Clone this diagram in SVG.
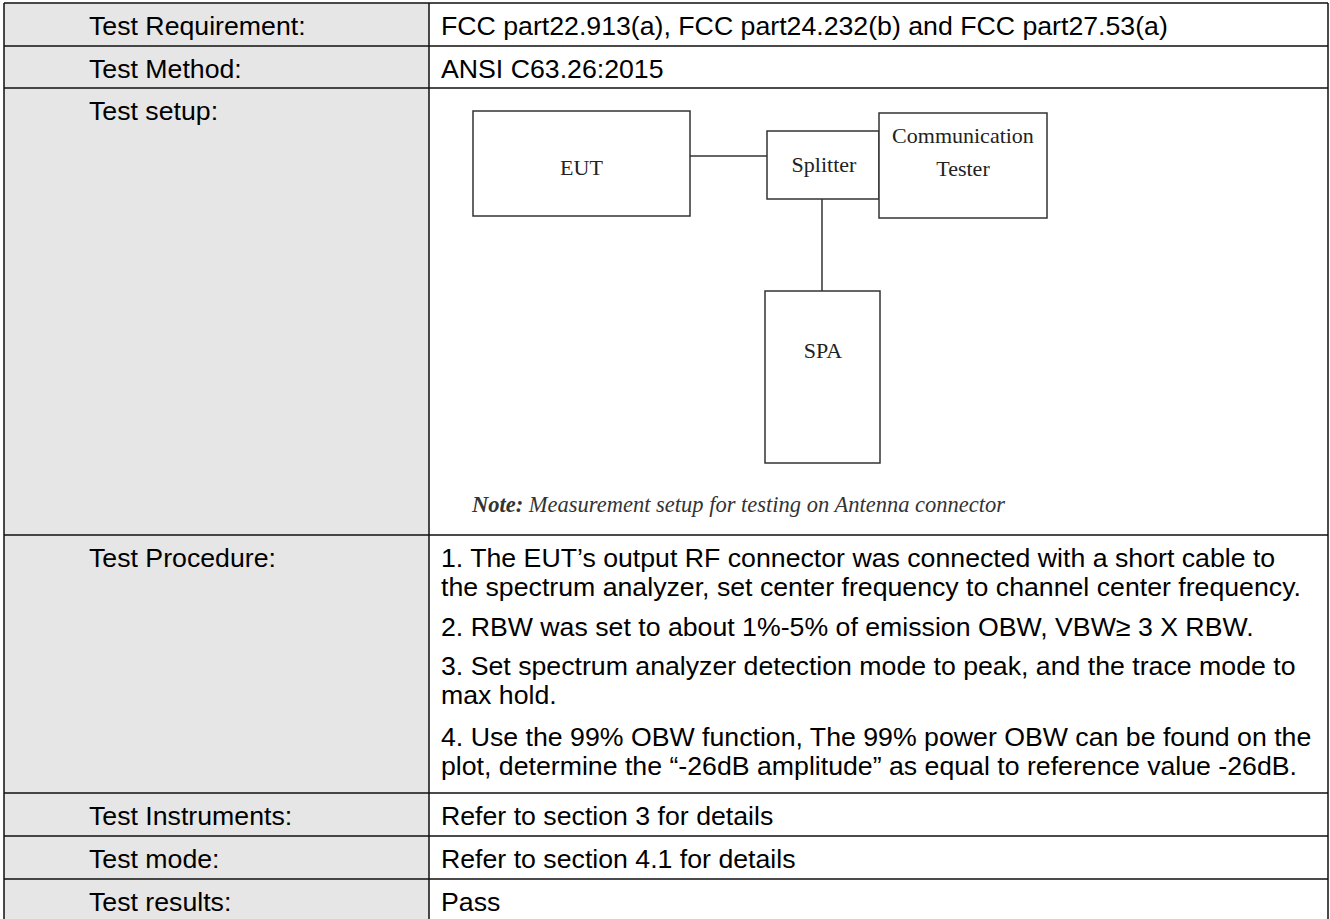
<svg xmlns="http://www.w3.org/2000/svg" width="1330" height="919" viewBox="0 0 1330 919">
<style>
.t{font-family:"Liberation Sans",Arial,sans-serif;font-size:26.7px;fill:#000}
.g{stroke:#111;stroke-width:1.5;fill:none}
.box{fill:#fff;stroke:#333;stroke-width:1.5}
.d{font-family:"Liberation Serif","Times New Roman",serif;font-size:22px;fill:#222;text-anchor:middle}
.n{font-family:"Liberation Serif","Times New Roman",serif;font-size:22.5px;fill:#333;font-style:italic}
.c{stroke:#333;stroke-width:1.5;fill:none}
</style>
<rect width="1330" height="919" fill="#fff"/>
<g id="table">
<rect x="4" y="3" width="425" height="920" fill="#e6e6e6"/>
<path class="g" d="M4 3H1328M4 46H1328M4 88H1328M4 535H1328M4 793H1328M4 836H1328M4 879H1328M4 3V919M429 3V919M1328 3V919"/>
</g>
<g id="labels">
<text class="t" x="89" y="34.5">Test Requirement:</text>
<text class="t" x="89" y="77.5">Test Method:</text>
<text class="t" x="89" y="119.5">Test setup:</text>
<text class="t" x="89" y="566.5">Test Procedure:</text>
<text class="t" x="89" y="824.5">Test Instruments:</text>
<text class="t" x="89" y="867.5">Test mode:</text>
<text class="t" x="89" y="910.5">Test results:</text>
</g>
<g id="values">
<text class="t" x="441" y="34.5">FCC part22.913(a), FCC part24.232(b) and FCC part27.53(a)</text>
<text class="t" x="441" y="77.5">ANSI C63.26:2015</text>
<text class="t" x="441" y="567">1. The EUT’s output RF connector was connected with a short cable to</text>
<text class="t" x="441" y="596">the spectrum analyzer, set center frequency to channel center frequency.</text>
<text class="t" x="441" y="636">2. RBW was set to about 1%-5% of emission OBW, VBW≥ 3 X RBW.</text>
<text class="t" x="441" y="675">3. Set spectrum analyzer detection mode to peak, and the trace mode to</text>
<text class="t" x="441" y="704">max hold.</text>
<text class="t" x="441" y="746">4. Use the 99% OBW function, The 99% power OBW can be found on the</text>
<text class="t" x="441" y="775">plot, determine the “-26dB amplitude” as equal to reference value -26dB.</text>
<text class="t" x="441" y="824.5">Refer to section 3 for details</text>
<text class="t" x="441" y="867.5">Refer to section 4.1 for details</text>
<text class="t" x="441" y="910.5">Pass</text>
</g>
<g id="connectors">
<path class="c" d="M690 156H767"/>
<path class="c" d="M822 199V291"/>
</g>
<g id="eut">
<rect class="box" x="473" y="111" width="217" height="105"/>
<text class="d" x="581.5" y="175">EUT</text>
</g>
<g id="splitter">
<rect class="box" x="767" y="131" width="112" height="68"/>
<text class="d" x="824" y="172">Splitter</text>
</g>
<g id="comm">
<rect class="box" x="879" y="113" width="168" height="105"/>
<text class="d" x="963" y="143">Communication</text>
<text class="d" x="963" y="176">Tester</text>
</g>
<g id="spa">
<rect class="box" x="765" y="291" width="115" height="172"/>
<text class="d" x="823" y="358">SPA</text>
</g>
<g id="note">
<text class="n" x="472" y="512"><tspan font-weight="bold">Note:</tspan> Measurement setup for testing on Antenna connector</text>
</g>
</svg>
